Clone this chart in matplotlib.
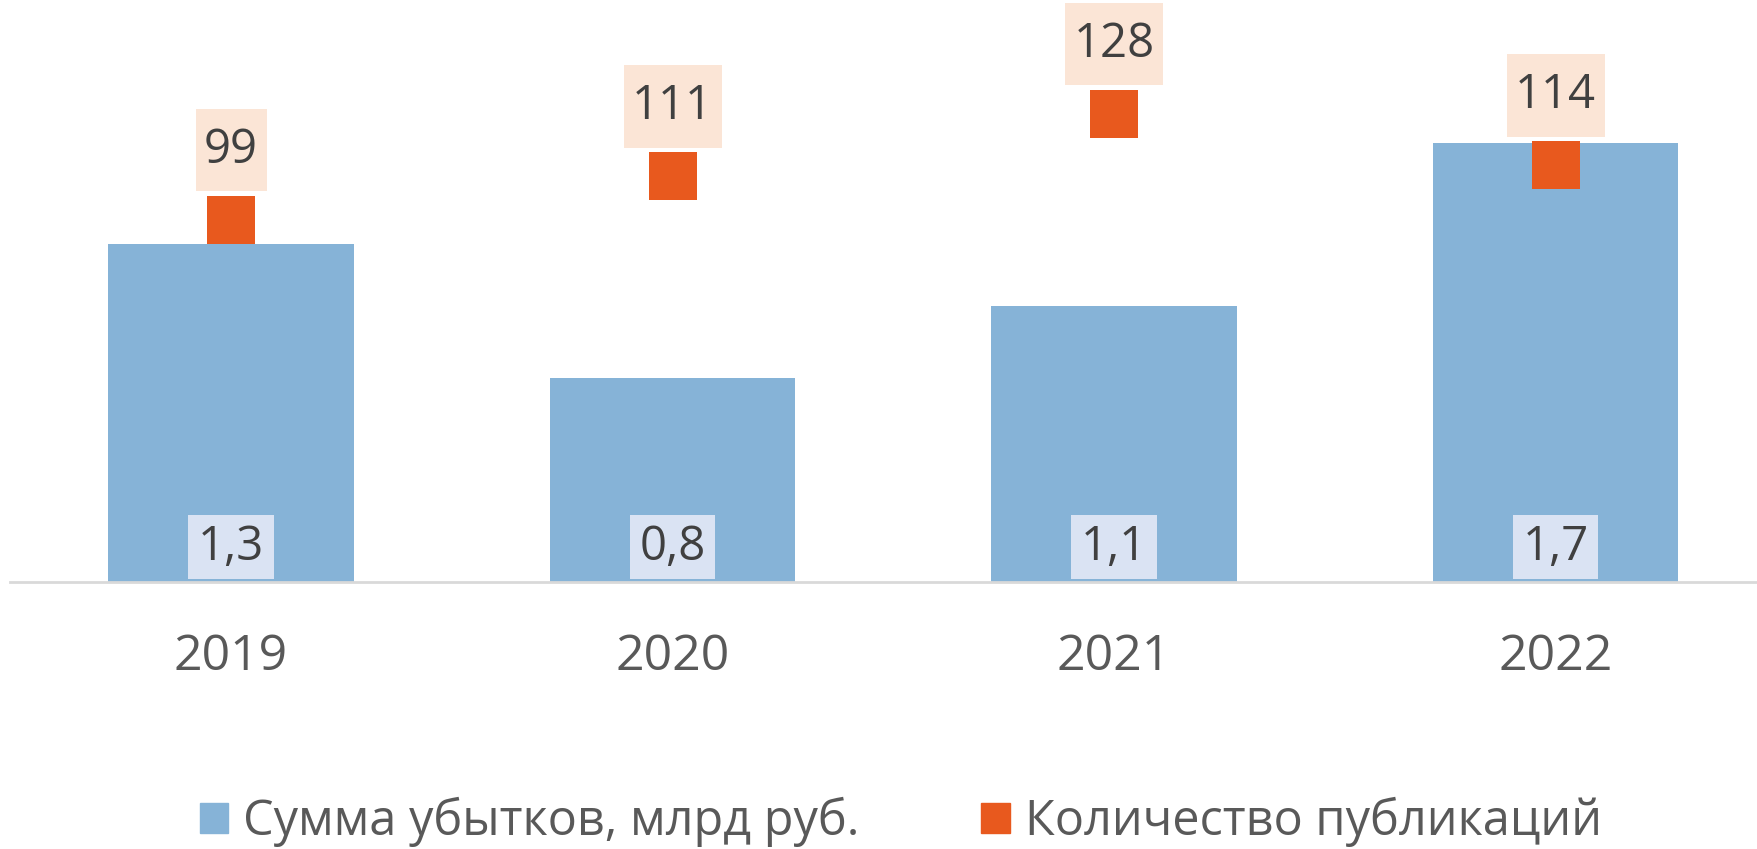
import numpy as np
import matplotlib.pyplot as plt
from matplotlib.patches import Patch
from matplotlib.path import Path

plt.rcParams['font.family'] = ['Open Sans', 'DejaVu Sans']

# data
years = ['2019', '2020', '2021', '2022']
losses = [1.31, 0.79, 1.07, 1.70]          # сумма убытков, млрд руб.
loss_labels = ['1,3', '0,8', '1,1', '1,7']
pubs = [99, 111, 128, 114]                  # количество публикаций

bar_col = '#86B3D7'
sq_col = '#E8591E'
txt_col = '#595959'
lbl_col = '#404040'


def rect_box(hpad, vpad):
    # label box with separate horizontal / vertical padding
    def style(x0, y0, width, height, mutation_size):
        hp, vp = hpad * mutation_size, vpad * mutation_size
        x0, y0 = x0 - hp, y0 - vp
        x1, y1 = x0 + width + 2 * hp, y0 + height + 2 * vp
        return Path([(x0, y0), (x1, y0), (x1, y1), (x0, y1), (x0, y0)], closed=True)
    return style


W, H = 1758, 849
fig = plt.figure(figsize=(W / 100, H / 100), dpi=100)
base = 582
left = 10.25
step = 441.5
ax = fig.add_axes([left / W, (H - base) / H, 4 * step / W, base / H])
ax2 = ax.twinx()

x = np.arange(len(years))
ax.bar(x, losses, width=0.555, color=bar_col, zorder=2)
ax.set_xlim(-0.5, 3.5)
ax.set_ylim(0, base / 258.0)
ax2.set_ylim(0, base / 3.655)

ax2.plot(x, pubs, linestyle='none', marker='s', markersize=34.5,
         color=sq_col, markeredgewidth=0, zorder=3)

for i, lab in enumerate(loss_labels):
    ax.annotate(lab, (x[i], 0), xytext=(0, 35), textcoords='offset pixels',
                ha='center', va='center', fontsize=34, color=lbl_col,
                bbox=dict(boxstyle=rect_box(0.2, 0.17), fc='#DAE3F3', ec='none'))

for i, p in enumerate(pubs):
    ax2.annotate(str(p), (x[i], p), xytext=(0, 70), textcoords='offset pixels',
                 ha='center', va='center', fontsize=34, color=lbl_col,
                 bbox=dict(boxstyle=rect_box(0.18, 0.37), fc='#FBE5D6', ec='none'))

for a in (ax, ax2):
    for s in a.spines.values():
        s.set_visible(False)
    a.set_yticks([])
ax.spines['bottom'].set_visible(True)
ax.spines['bottom'].set_color('#D9D9D9')
ax.spines['bottom'].set_linewidth(2)

ax.set_xticks(x)
ax.set_xticklabels(years, fontsize=36, color=txt_col)
ax.tick_params(axis='x', length=0, pad=36)

handles = [Patch(color=bar_col, label='Сумма убытков, млрд руб.'),
           Patch(color=sq_col, label='Количество публикаций')]
fig.legend(handles=handles, loc='center', bbox_to_anchor=(0.5125, 1 - 822 / H),
           ncol=2, frameon=False, fontsize=35, labelcolor=txt_col,
           handlelength=0.58, handleheight=0.58, handletextpad=0.32,
           columnspacing=2.5)

fig.savefig('out.png', dpi=100)
